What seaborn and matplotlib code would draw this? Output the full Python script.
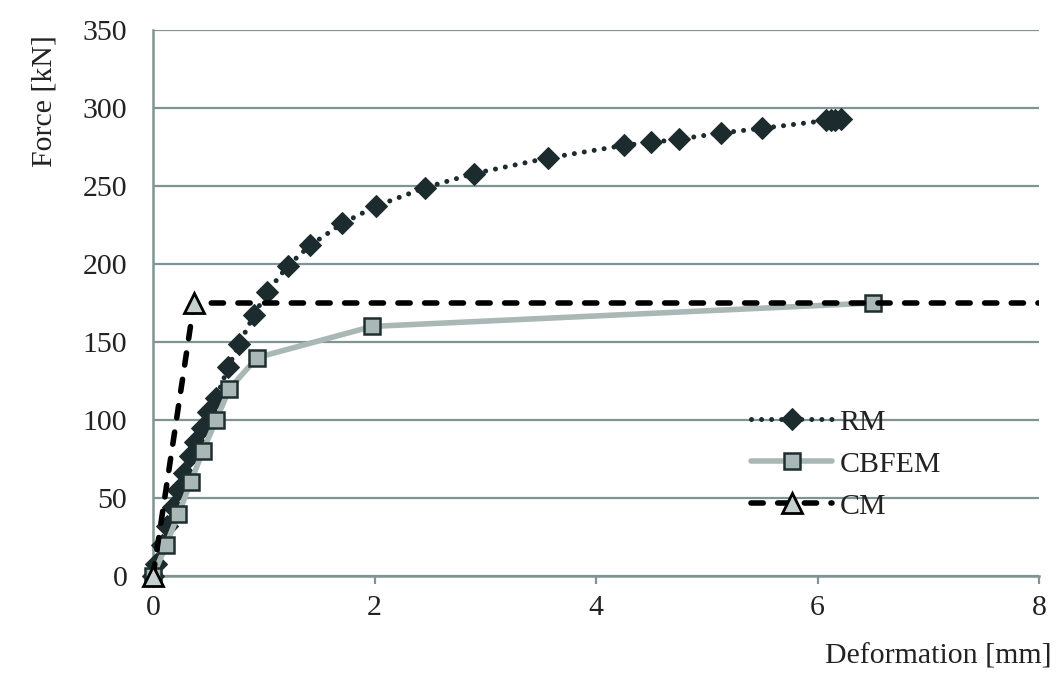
import matplotlib
matplotlib.use("Agg")
import matplotlib.pyplot as plt
from matplotlib.transforms import Bbox, TransformedBbox
import seaborn as sns
import pandas as pd

# ---- data ----
rm_x = [0, 0.03, 0.08, 0.13, 0.18, 0.23, 0.28, 0.33, 0.38, 0.44, 0.50, 0.57, 0.68, 0.78,
        0.91, 1.03, 1.22, 1.42, 1.71, 2.01, 2.46, 2.90, 3.57, 4.25, 4.50, 4.75, 5.13, 5.50,
        6.08, 6.12, 6.16, 6.21]
rm_y = [0, 8, 20, 32, 44, 55, 66, 77, 86, 95, 105, 114, 134, 149,
        167, 182, 199, 212, 226, 237, 249, 258, 268, 276, 278, 280, 284, 287,
        292, 292, 292, 293]
cb_x = [0, 0.12, 0.23, 0.34, 0.45, 0.57, 0.69, 0.94, 1.98, 6.5]
cb_y = [0, 20, 40, 60, 80, 100, 120, 140, 160, 175]
cm_x = [0, 0.37, 8.0]
cm_y = [0, 175, 175]
x_ticks = [0, 2, 4, 6, 8]
y_ticks = [0, 50, 100, 150, 200, 250, 300, 350]

sns.set_theme(style="white")
plt.rcParams["font.family"] = ["Liberation Serif", "DejaVu Serif"]

fig = plt.figure(figsize=(10.64, 6.84), dpi=100)
ax = fig.add_axes([153/1064, 1-576/684, (1039-153)/1064, (576-30)/684])

grid_c = "#7f9493"
rm_c = "#1b2b2e"
txt_c = "#222222"
fs = 21.5

sns.lineplot(x=rm_x, y=rm_y, ax=ax, sort=False, estimator=None, color=rm_c,
             linestyle=(0, (0.01, 2.0)), linewidth=3.6, dash_capstyle="round",
             marker="D", markersize=11, markerfacecolor=rm_c, markeredgecolor=rm_c,
             label="RM", zorder=3, clip_on=False)
sns.lineplot(x=cb_x, y=cb_y, ax=ax, sort=False, estimator=None, color="#a9b7b5",
             linewidth=4, marker="s", markersize=11, markerfacecolor="#a9b8b7",
             markeredgecolor="#1f2e2f", markeredgewidth=1.8, label="CBFEM", zorder=4,
             clip_on=False)
sns.lineplot(x=cm_x, y=cm_y, ax=ax, sort=False, estimator=None, color="black",
             linestyle=(0, (2.2, 2.6)), linewidth=4, dash_capstyle="round",
             marker="^", markersize=15, markerfacecolor="#c5d1d0",
             markeredgecolor="black", markeredgewidth=2, markevery=[0, 1],
             label="CM", zorder=5)
# clip CM only on the right side (keep the origin triangle whole)
cm_line = ax.get_lines()[-1]
cm_line.set_clip_on(True)
cm_line.set_clip_box(TransformedBbox(Bbox([[-1, -50], [8, 400]]), ax.transData))

ax.set_xlim(0, 8)
ax.set_ylim(0, 350)
ax.set_xticks(x_ticks)
ax.set_yticks(y_ticks)
ax.set_xticklabels([str(v) for v in x_ticks])
ax.set_yticklabels([str(v) for v in y_ticks])
ax.yaxis.grid(True, color=grid_c, linewidth=1.6)
ax.xaxis.grid(False)
ax.set_axisbelow(True)
for s in ["top", "right"]:
    ax.spines[s].set_visible(False)
for s in ["left", "bottom"]:
    ax.spines[s].set_color(grid_c)
    ax.spines[s].set_linewidth(1.8)
ax.tick_params(axis="x", which="both", bottom=True, length=6, width=1.6,
               color=grid_c, direction="out", pad=8, labelsize=fs, labelcolor=txt_c)
ax.tick_params(axis="y", left=False, length=0, pad=18.5, labelsize=fs, labelcolor=txt_c)
ax.set_xlabel("")
ax.set_ylabel("")

fig.text(45/1064, 1-101/684, "Force [kN]", rotation=90, ha="center", va="center",
         fontsize=fs, color=txt_c)
fig.text(1052/1064, 1-657/684, "Deformation [mm]", ha="right", va="center",
         fontsize=fs, color=txt_c)

leg = ax.legend(loc="upper left", bbox_to_anchor=(0.645, 0.355), frameon=False,
                fontsize=fs, handlelength=2.7, labelspacing=0.5, handletextpad=0.25)
for t in leg.get_texts():
    t.set_color(txt_c)

fig.savefig("out.png", dpi=100)
